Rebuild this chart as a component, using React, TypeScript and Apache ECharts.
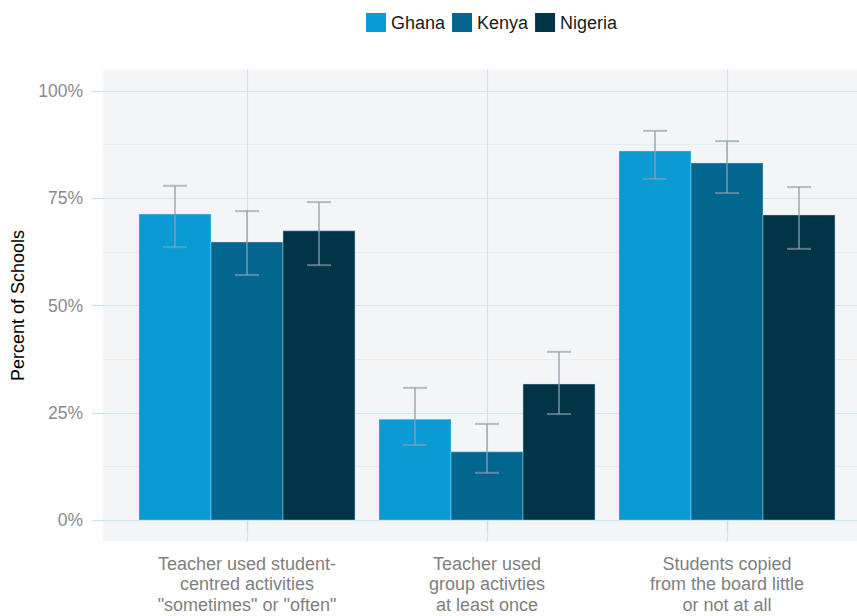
import React, { useEffect, useRef } from "react";
import * as echarts from "echarts";

const categories = [
  'Teacher used student-\ncentred activities\n"sometimes" or "often"',
  "Teacher used\ngroup activties\nat least once",
  "Students copied\nfrom the board little\nor not at all",
];
const countries = ["Ghana", "Kenya", "Nigeria"];
const ghana = [71.3, 23.5, 86.0];
const kenya = [64.8, 15.9, 83.2];
const nigeria = [67.4, 31.7, 71.1];
const ghanaLow = [63.6, 17.5, 79.5];
const ghanaHigh = [77.9, 30.8, 90.7];
const kenyaLow = [57.1, 11.0, 76.2];
const kenyaHigh = [72.0, 22.4, 88.3];
const nigeriaLow = [59.4, 24.7, 63.2];
const nigeriaHigh = [74.1, 39.2, 77.6];
const yTicks = [0, 25, 50, 75, 100];
const yMinorTicks = [12.5, 37.5, 62.5, 87.5];

const colors = ["#0a9bd4", "#03668f", "#023447"];
const FONT = "Liberation Sans, Arial, sans-serif";

export default function App() {
  const ref = useRef<HTMLDivElement>(null);
  useEffect(() => {
    document.body.style.margin = "0";
    const chart = echarts.init(ref.current!, undefined, { renderer: "svg" });
    const values = [ghana, kenya, nigeria];
    const lows = [ghanaLow, kenyaLow, nigeriaLow];
    const highs = [ghanaHigh, kenyaHigh, nigeriaHigh];
    const barW = 0.3;
    const offsets = [-0.3, 0, 0.3];
    const capW = 0.1;

    const barSeries = countries.map((name, i) => ({
      name,
      type: "custom",
      z: 2,
      itemStyle: { color: colors[i] },
      data: values[i].map((v, k) => [k + 1, v]),
      renderItem: (params: any, api: any) => {
        const xc = api.value(0) + offsets[i];
        const tl = api.coord([xc - barW / 2, api.value(1)]);
        const br = api.coord([xc + barW / 2, 0]);
        return {
          type: "rect",
          shape: { x: tl[0], y: tl[1], width: br[0] - tl[0], height: br[1] - tl[1] },
          style: { fill: colors[i], stroke: "rgba(190,225,240,0.55)", lineWidth: 0.8 },
        };
      },
    }));

    const errSeries = countries.map((name, i) => ({
      name: name + " error",
      type: "custom",
      z: 3,
      data: lows[i].map((lo, k) => [k + 1, lo, highs[i][k]]),
      renderItem: (params: any, api: any) => {
        const xc = api.value(0) + offsets[i];
        const lo = api.coord([xc, api.value(1)]);
        const hi = api.coord([xc, api.value(2)]);
        const cl = api.coord([xc - capW / 2, api.value(1)]);
        const cr = api.coord([xc + capW / 2, api.value(1)]);
        const hl = api.coord([xc - capW / 2, api.value(2)]);
        const hr = api.coord([xc + capW / 2, api.value(2)]);
        const st = { stroke: "rgba(140,158,172,0.65)", lineWidth: 2 };
        return {
          type: "group",
          children: [
            { type: "line", shape: { x1: lo[0], y1: lo[1], x2: hi[0], y2: hi[1] }, style: st },
            { type: "line", shape: { x1: cl[0], y1: cl[1], x2: cr[0], y2: cr[1] }, style: st },
            { type: "line", shape: { x1: hl[0], y1: hl[1], x2: hr[0], y2: hr[1] }, style: st },
          ],
        };
      },
    }));

    chart.setOption({
      animation: false,
      textStyle: { fontFamily: FONT },
      legend: {
        data: countries,
        left: 361,
        top: 8,
        itemWidth: 20,
        itemHeight: 19,
        itemGap: 7,
        icon: "rect",
        textStyle: { fontSize: 18, color: "#1a1a1a", fontFamily: FONT },
      },
      grid: {
        left: 103,
        top: 69.5,
        width: 768,
        height: 472,
        show: true,
        backgroundColor: "#f3f5f7",
        borderWidth: 0,
        containLabel: false,
        outerBoundsMode: "none",
      },
      xAxis: {
        type: "value",
        min: 0.4,
        max: 3.6,
        axisLine: { show: false },
        axisTick: {
          show: true,
          customValues: [1, 2, 3],
          length: 11,
          lineStyle: { color: "#c6e2ee", width: 1.2 },
        },
        axisLabel: {
          customValues: [1, 2, 3],
          formatter: (v: number) => categories[Math.round(v) - 1] ?? "",
          color: "#7f7f7f",
          fontSize: 18,
          lineHeight: 20.5,
          margin: 12,
          fontFamily: FONT,
        },
        splitLine: { show: true, lineStyle: { color: "#cfe6f0", width: 1.2 } },
      },
      yAxis: [
        {
          type: "value",
          min: -5,
          max: 105,
          name: "Percent of Schools",
          nameLocation: "middle",
          nameGap: 76,
          nameTextStyle: { fontSize: 18, color: "#000", fontFamily: FONT },
          axisLine: { show: false },
          axisTick: {
            show: true,
            customValues: yTicks,
            length: 11,
            lineStyle: { color: "#c6e2ee", width: 1.2 },
          },
          axisLabel: {
            customValues: yTicks,
            formatter: (v: number) => `${v}%`,
            color: "#8a8a8a",
            fontSize: 17.5,
            margin: 20,
            fontFamily: FONT,
          },
          splitLine: { show: true, lineStyle: { color: "#cfe6f0", width: 1.2 } },
        },
        {
          type: "value",
          min: -5,
          max: 105,
          position: "right",
          axisLine: { show: false },
          axisTick: { show: false, customValues: yMinorTicks },
          axisLabel: { show: false, customValues: yMinorTicks },
          splitLine: { show: true, lineStyle: { color: "#e2eef4", width: 1 } },
        },
      ],
      series: [...barSeries, ...errSeries],
    });
    return () => chart.dispose();
  }, []);
  return <div ref={ref} style={{ width: 857, height: 616 }} />;
}
